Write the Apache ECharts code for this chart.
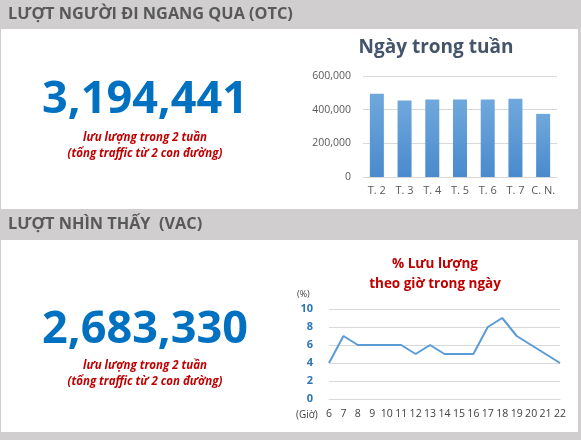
<!DOCTYPE html>
<html><head><meta charset="utf-8">
<script src="https://cdn.jsdelivr.net/npm/echarts@6/dist/echarts.min.js"></script>
<style>html,body{margin:0;padding:0;background:#fff}#c{width:581px;height:440px}</style>
</head><body><div id="c"></div>
<script>
const dayCats = ['T. 2','T. 3','T. 4','T. 5','T. 6','T. 7','C. N.'];
const dayValues = [495000, 455000, 460000, 460000, 460000, 465000, 375000];
const hourCats = ['6','7','8','9','10','11','12','13','14','15','16','17','18','19','20','21','22'];
const hourValues = [4,7,6,6,6,6,5,6,5,5,5,8,9,7,6,5,4];
const otcTotal = '3,194,441';
const vacTotal = '2,683,330';
const F = '"Open Sans", Calibri, sans-serif';
const chart = echarts.init(document.getElementById('c'));
const hdr = (y,h,txt)=>[
  {type:'rect',shape:{x:0,y:y,width:581,height:h},style:{fill:'#D0CECE'}},
  {type:'text',x:8,y:y+h/2,style:{text:txt,fill:'#595959',font:'bold 16.3px '+F,textVerticalAlign:'middle'}}
];
const sub = (y)=>({type:'text',x:145,y:y,style:{text:'lưu lượng trong 2 tuần\n(tổng traffic từ 2 con đường)',fill:'#C00000',font:'italic bold 11.5px '+F,textAlign:'center',lineHeight:16}});
chart.setOption({
  animation:false,
  graphic:[
    ...hdr(0,29,'LƯỢT NGƯỜI ĐI NGANG QUA (OTC)'),
    ...hdr(209,31,'LƯỢT NHÌN THẤY  (VAC)'),
    {type:'rect',shape:{x:0,y:432,width:581,height:8},style:{fill:'#D0CECE'}},
    {type:'rect',shape:{x:578,y:0,width:3,height:440},style:{fill:'#D0CECE'}},
    {type:'rect',shape:{x:0,y:0,width:1,height:440},style:{fill:'#D0CECE'}},
    {type:'text',x:145,y:100,style:{text:otcTotal,fill:'#0070C0',font:'bold 45px '+F,textAlign:'center',textVerticalAlign:'middle'}},
    sub(130),
    {type:'text',x:145,y:330,style:{text:vacTotal,fill:'#0070C0',font:'bold 45px '+F,textAlign:'center',textVerticalAlign:'middle'}},
    sub(358),
    {type:'text',x:436,y:48,style:{text:'Ngày trong tuần',fill:'#44546A',font:'bold 19px '+F,textAlign:'center',textVerticalAlign:'middle'}},
    {type:'text',x:435,y:264,style:{text:'% Lưu lượng',fill:'#C00000',font:'bold 13.5px '+F,textAlign:'center',textVerticalAlign:'middle'}},
    {type:'text',x:435,y:284,style:{text:'theo giờ trong ngày',fill:'#C00000',font:'bold 13.5px '+F,textAlign:'center',textVerticalAlign:'middle'}},
    {type:'text',x:297,y:294,style:{text:'(%)',fill:'#404040',font:'9px '+F,textVerticalAlign:'middle'}},
    {type:'text',x:296,y:415,style:{text:'(Giờ)',fill:'#404040',font:'10px '+F,textVerticalAlign:'middle'}}
  ],
  grid:[
    {left:363,right:24,top:76,bottom:263},
    {left:329,right:21,top:309,bottom:41}
  ],
  xAxis:[
    {type:'category',gridIndex:0,data:dayCats,axisTick:{show:false},axisLine:{lineStyle:{color:'#D9D9D9'}},axisLabel:{color:'#595959',fontSize:11,fontFamily:F,margin:8,interval:0}},
    {type:'category',gridIndex:1,data:hourCats,boundaryGap:false,axisTick:{show:false},axisLine:{lineStyle:{color:'#D9D9D9'}},axisLabel:{color:'#404040',fontSize:10.5,fontFamily:F,margin:10,interval:0}}
  ],
  yAxis:[
    {type:'value',gridIndex:0,min:0,max:600000,interval:200000,splitLine:{lineStyle:{color:'#D9D9D9'}},axisLabel:{color:'#595959',fontSize:10.5,fontFamily:F,margin:12,formatter:v=>v.toLocaleString('en-US')}},
    {type:'value',gridIndex:1,min:0,max:10,interval:2,splitLine:{lineStyle:{color:'#D9D9D9'}},axisLabel:{color:'#2E75B6',fontWeight:'bold',fontSize:11,fontFamily:F,margin:16}}
  ],
  series:[
    {type:'bar',xAxisIndex:0,yAxisIndex:0,data:dayValues,barWidth:14,
     itemStyle:{color:new echarts.graphic.LinearGradient(0,0,0,1,[{offset:0,color:'#6FA8DC'},{offset:1,color:'#4A8ACD'}])}},
    {type:'line',xAxisIndex:1,yAxisIndex:1,data:hourValues,symbol:'none',lineStyle:{color:'#5B9BD5',width:2}}
  ]
});
</script></body></html>
